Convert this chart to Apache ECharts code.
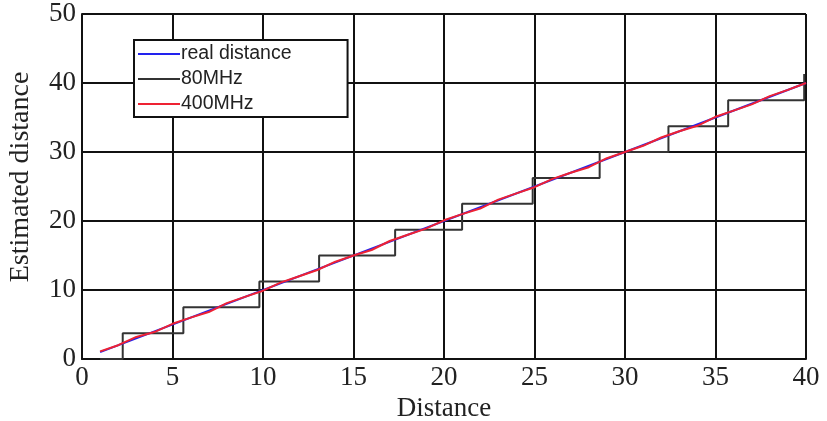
<!DOCTYPE html>
<html>
<head>
<meta charset="utf-8">
<script src="https://cdn.jsdelivr.net/npm/echarts@6/dist/echarts.min.js"></script>
<style>
html,body{margin:0;padding:0;background:#fff;}
#chart{width:827px;height:421px;}
</style>
</head>
<body>
<div id="chart"></div>
<script>
// Real distance (ideal y = x)
const realX = [1, 40];
const realY = [1, 40];

// 80MHz step estimate: transition points (x) and new level (y); drawn with step 'end'
const mhz80X = [1, 2.25, 5.6, 9.8, 13.1, 17.3, 21.0, 24.9, 28.6, 32.4, 35.7, 39.9];
const mhz80Y = [0, 3.75, 7.5, 11.25, 15.0, 18.75, 22.5, 26.25, 30.0, 33.75, 37.5, 41.3];

// 400MHz estimate
const mhz400X = [1,2,3,4,5,6,7,8,9,10,11,12,13,14,15,16,17,18,19,20,21,22,23,24,25,26,27,28,29,30,31,32,33,34,35,36,37,38,39,40];
const mhz400Y = [1.1,2.0,3.2,3.9,5.1,6.0,6.8,8.1,9.0,9.9,11.1,12.0,12.9,14.1,15.0,15.8,17.1,18.0,18.9,20.1,21.0,21.8,23.1,24.0,24.9,26.1,27.0,27.8,29.1,30.0,30.9,32.1,33.0,33.8,35.1,36.0,36.9,38.1,39.0,40.0];

const seriesNames = ['real distance', '80MHz', '400MHz'];

const zip = (a, b) => a.map((v, i) => [v, b[i]]);

const chart = echarts.init(document.getElementById('chart'));
const serif = '"Liberation Serif", "Times New Roman", serif';
chart.setOption({
  animation: false,
  backgroundColor: '#fff',
  grid: { left: 82, right: 21, top: 14, bottom: 62, containLabel: false, outerBoundsMode: 'none' },
  legend: {
    orient: 'vertical',
    left: 134, top: 40,
    data: seriesNames,
    icon: 'rect',
    itemWidth: 42, itemHeight: 2, itemGap: 5,
    padding: [4, 56, 3, 4],
    borderColor: '#111', borderWidth: 2,
    backgroundColor: '#fff',
    textStyle: { fontFamily: '"Liberation Sans", Arial, sans-serif', fontSize: 19.5, color: '#222', lineHeight: 20, padding: [0, 0, 0, -4] }
  },
  xAxis: {
    type: 'value', min: 0, max: 40, interval: 5,
    name: 'Distance', nameLocation: 'middle', nameGap: 34,
    nameTextStyle: { fontFamily: serif, fontSize: 27, color: '#222' },
    axisLine: { show: true, lineStyle: { color: '#111', width: 2 } },
    axisTick: { show: false },
    axisLabel: { fontFamily: serif, fontSize: 27, color: '#222', margin: 5 },
    splitLine: { show: true, lineStyle: { color: '#111', width: 2 } }
  },
  yAxis: {
    type: 'value', min: 0, max: 50, interval: 10,
    name: 'Estimated distance', nameLocation: 'middle', nameGap: 47,
    nameTextStyle: { fontFamily: serif, fontSize: 28, color: '#222', padding: [0, 0, 0, 19] },
    axisLine: { show: true, lineStyle: { color: '#111', width: 2 } },
    axisTick: { show: false },
    axisLabel: { fontFamily: serif, fontSize: 27, color: '#222', margin: 6 },
    splitLine: { show: true, lineStyle: { color: '#111', width: 2 } }
  },
  series: [
    { name: seriesNames[0], type: 'line', data: zip(realX, realY), symbol: 'none',
      lineStyle: { color: '#2222ee', width: 2 }, itemStyle: { color: '#2222ee' }, z: 3 },
    { name: seriesNames[1], type: 'line', data: zip(mhz80X, mhz80Y), symbol: 'none', step: 'end',
      lineStyle: { color: '#333', width: 2 }, itemStyle: { color: '#333' }, z: 2 },
    { name: seriesNames[2], type: 'line', data: zip(mhz400X, mhz400Y), symbol: 'none',
      lineStyle: { color: '#ee2233', width: 2 }, itemStyle: { color: '#ee2233' }, z: 4 }
  ]
});
</script>
</body>
</html>
